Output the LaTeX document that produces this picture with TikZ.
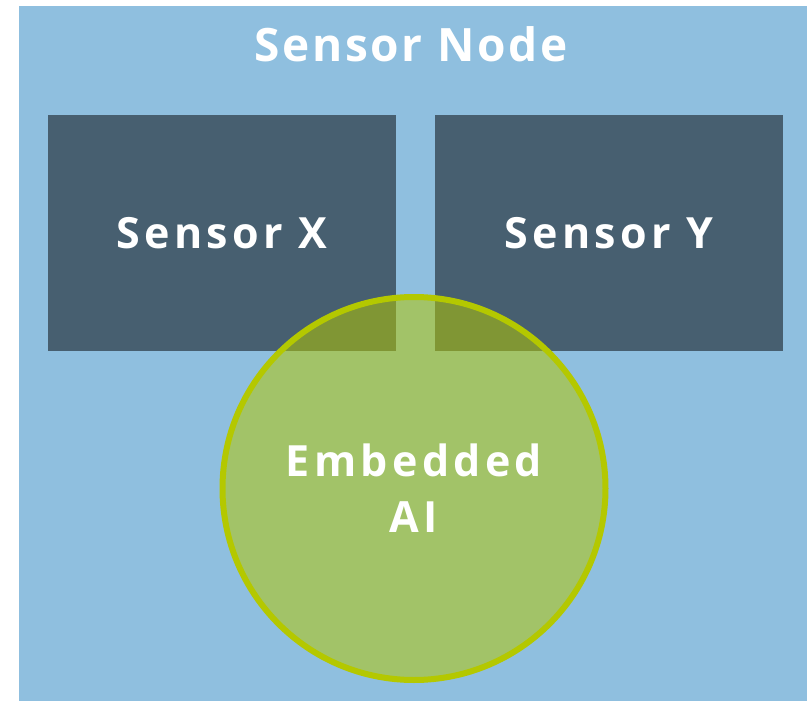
\documentclass[tikz,border=0pt]{standalone}
\usepackage{fontspec}
\setsansfont{Open Sans}[LetterSpace=6]
\definecolor{nodeblue}{HTML}{8FBFDF}
\definecolor{sensorgray}{HTML}{475F70}
\definecolor{lime}{HTML}{B4C800}
\begin{document}
\begin{tikzpicture}[x=1pt,y=-1pt,
    sensor/.style={fill=sensorgray,minimum width=348,minimum height=236,inner sep=0,
                   text=white,font=\sffamily\bfseries\fontsize{43}{52}\selectfont\addfontfeatures{LetterSpace=10}},
    brain/.style={circle,draw=lime,line width=6,fill=lime,fill opacity=.53,text opacity=1,
                  minimum size=383,inner sep=0,text=white,align=center,
                  font=\sffamily\bfseries\fontsize{43}{56}\selectfont\addfontfeatures{LetterSpace=10}}]
  \useasboundingbox (0,0) rectangle (807,701);
  % the node itself
  \fill[nodeblue] (19,6) rectangle (807,701);
  \node[anchor=base,text=white,font=\sffamily\bfseries\fontsize{46}{56}\selectfont] (title) at (411,62) {Sensor Node};
  % the two sensors
  \node[sensor] (sx) at (222,233) {Sensor X};
  \node[sensor] (sy) at (609,233) {Sensor Y};
  % ai on top
  \node[brain] (ai) at (414,488.5) {Embedded\\AI};
\end{tikzpicture}
\end{document}
